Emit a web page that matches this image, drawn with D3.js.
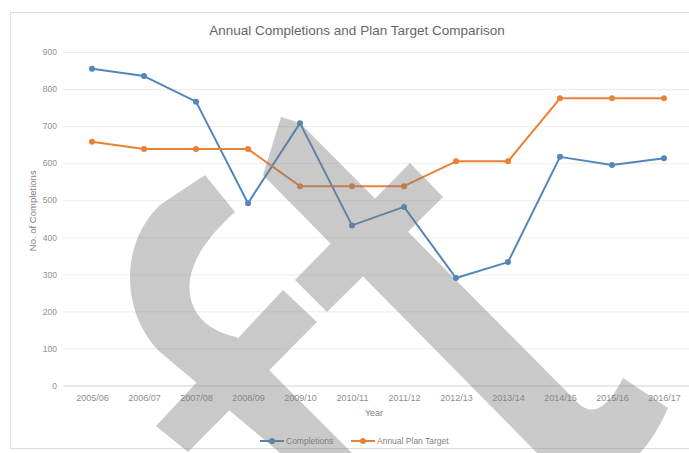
<!DOCTYPE html>
<html>
<head>
<meta charset="utf-8">
<script src="https://cdn.jsdelivr.net/npm/d3@7/dist/d3.min.js"></script>
<style>
	html, body { margin: 0; padding: 0; background: #fff; }
	svg { display: block; }
</style>
</head>
<body>
<svg id="canvas" width="689" height="453"></svg>
<script>
// chart data
const years = ["2005/06", "2006/07", "2007/08", "2008/09", "2009/10", "2010/11",
	"2011/12", "2012/13", "2013/14", "2014/15", "2015/16", "2016/17"];
const completions = [855, 835, 766, 492, 708, 432, 482, 290, 333, 617, 595, 613];
const planTarget = [658, 638, 638, 638, 538, 538, 538, 605, 605, 775, 775, 775];
const yTicks = [0, 100, 200, 300, 400, 500, 600, 700, 800, 900];

const series = [
	{ name: "Completions", values: completions, color: "#5287bb" },
	{ name: "Annual Plan Target", values: planTarget, color: "#ea8136" }
];

const plot = { left: 66, right: 690, top: 52, bottom: 385.5 };
const svg = d3.select("#canvas");
const font = "'Liberation Sans', Arial, sans-serif";

// chart frame
svg.append("rect")
	.attr("x", 10.5).attr("y", 12.5)
	.attr("width", 700).attr("height", 436)
	.attr("fill", "#fff")
	.attr("stroke", "#dcdcdc");

const x = d3.scalePoint().domain(years).range([plot.left, plot.right]).padding(0.5);
const y = d3.scaleLinear().domain([0, 900]).range([plot.bottom, plot.top]);

// gridlines + y labels
const yAxis = svg.append("g")
	.attr("transform", `translate(${plot.left - 3},0)`)
	.call(d3.axisLeft(y).tickValues(yTicks).tickSize(-(plot.right - plot.left + 3)).tickPadding(6));
yAxis.select(".domain").remove();
yAxis.selectAll(".tick line")
	.attr("stroke", d => d === 0 ? "#d4d4d4" : "#ececec");
yAxis.selectAll(".tick text")
	.attr("fill", "#8f8f8f")
	.style("font", `8.5px ${font}`);

// x labels
const xAxis = svg.append("g")
	.attr("transform", `translate(0,${plot.bottom})`)
	.call(d3.axisBottom(x).tickSize(0).tickPadding(9));
xAxis.select(".domain").remove();
xAxis.selectAll(".tick text")
	.attr("fill", "#8f8f8f")
	.style("font", `9px ${font}`);

// titles
svg.append("text")
	.attr("x", 357).attr("y", 35)
	.attr("text-anchor", "middle")
	.attr("fill", "#666")
	.style("font", `13.5px ${font}`)
	.text("Annual Completions and Plan Target Comparison");

svg.append("text")
	.attr("transform", `translate(36,${(plot.top + plot.bottom) / 2 - 8}) rotate(-90)`)
	.attr("text-anchor", "middle")
	.attr("fill", "#7f7f7f")
	.style("font", `9.5px ${font}`)
	.text("No. of Completions");

svg.append("text")
	.attr("x", x("2010/11") + 22).attr("y", 416)
	.attr("text-anchor", "middle")
	.attr("fill", "#7f7f7f")
	.style("font", `9px ${font}`)
	.text("Year");

// lines + markers
const line = d3.line()
	.x((d, i) => x(years[i]))
	.y(d => y(d));

series.forEach(s => {
	svg.append("path")
		.datum(s.values)
		.attr("fill", "none")
		.attr("stroke", s.color)
		.attr("stroke-width", 2)
		.attr("stroke-linejoin", "round")
		.attr("d", line);
	svg.append("g")
		.selectAll("circle")
		.data(s.values)
		.join("circle")
		.attr("cx", (d, i) => x(years[i]))
		.attr("cy", d => y(d))
		.attr("r", 3)
		.attr("fill", s.color);
});

// legend
const legendX = [260, 351];
const legend = svg.append("g")
	.selectAll("g")
	.data(series)
	.join("g")
	.attr("transform", (d, i) => `translate(${legendX[i]},441)`);
legend.append("line")
	.attr("x1", 0).attr("x2", 24)
	.attr("stroke", d => d.color)
	.attr("stroke-width", 2);
legend.append("circle")
	.attr("cx", 12).attr("r", 3)
	.attr("fill", d => d.color);
legend.append("text")
	.attr("x", 26).attr("y", 3)
	.attr("fill", "#7f7f7f")
	.style("font", `8.5px ${font}`)
	.text(d => d.name);

// watermark overlay
const mark = svg.append("g")
	.attr("opacity", 0.4)
	.attr("fill", "#7b7b7b");
mark.append("path")
	.attr("d", "M205,175 L235,212 C206,238 186,266 190,295 C194,320 214,332 236,337 L352,453 L280,453 L160,352 C122,315 118,245 160,205 Z");
mark.append("path")
	.attr("d", "M295,280 L410,163 L443,197 L327,312 Z");
mark.append("path")
	.attr("d", "M283,290 L317,322 L188,452 L156,426 Z");
mark.append("path")
	.attr("d", "M281,117 L300,123 L578,403 Q600,424 623,378 L668,408 Q656,436 640,453 L537,453 L263,175 Z");
</script>
</body>
</html>
